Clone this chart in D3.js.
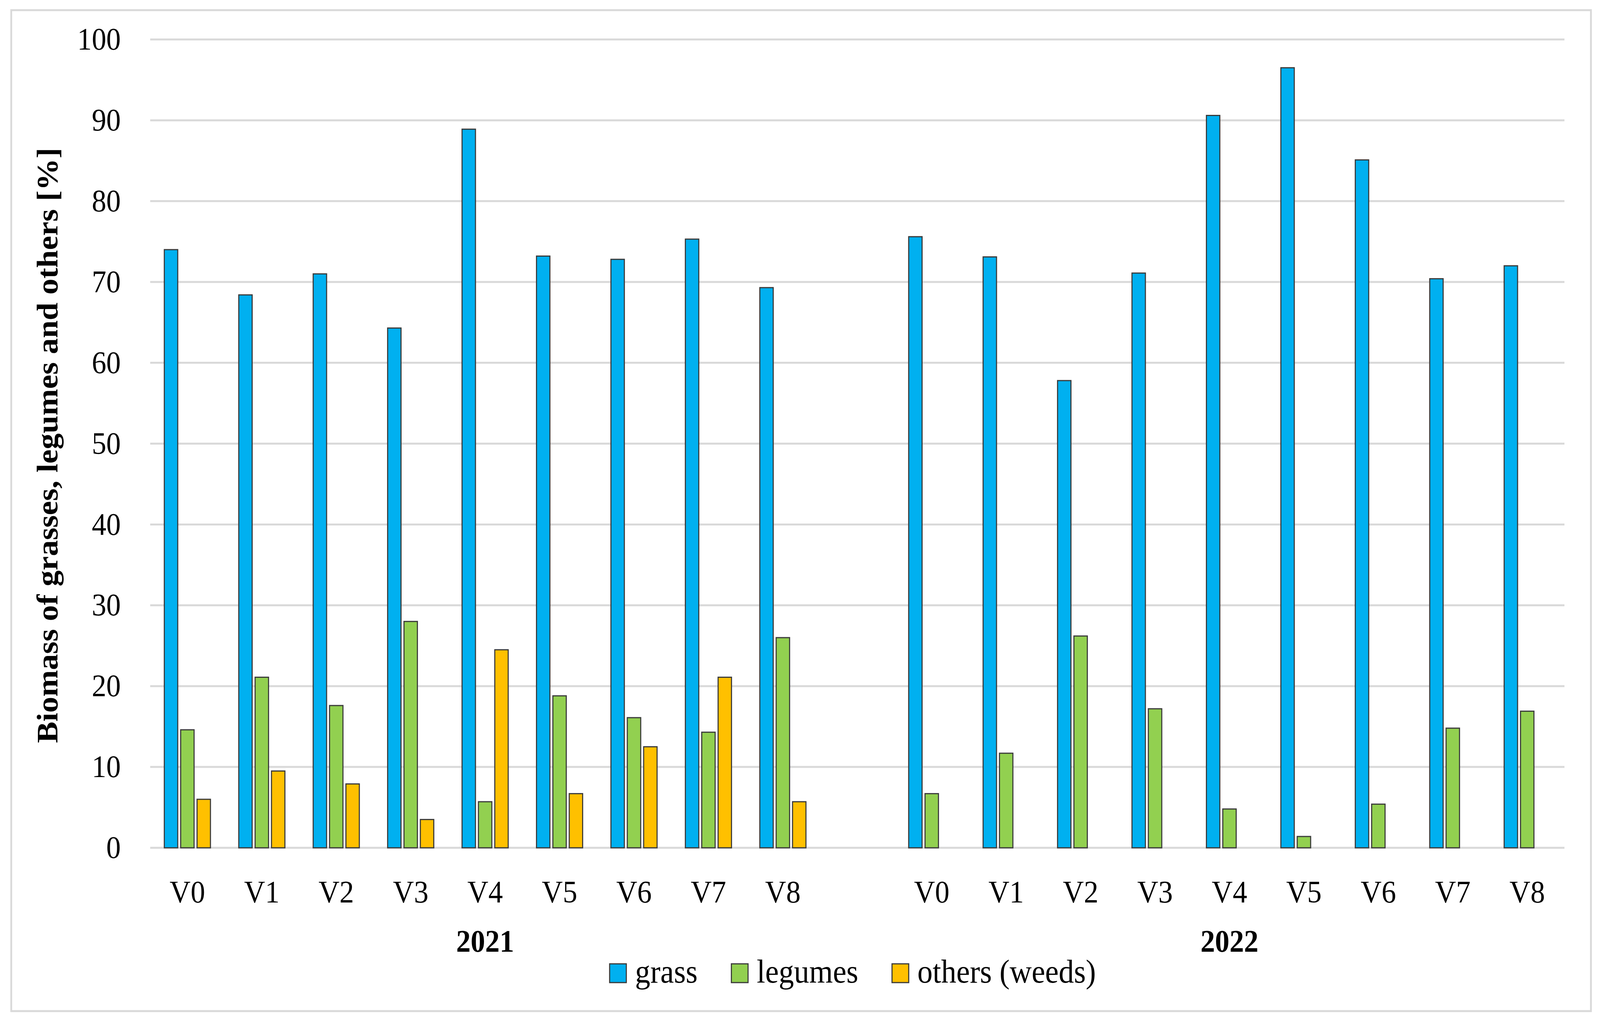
<!DOCTYPE html>
<html>
<head>
<meta charset="utf-8">
<script src="https://cdn.jsdelivr.net/npm/d3@7"></script>
<style>
  html, body { margin: 0; padding: 0; background: #fff; overflow: hidden; }
  svg { display: block; }
</style>
</head>
<body>
<div class="chart"></div>
<script>
// data
const years = ["2021", "2022"];
const variants = ["V0", "V1", "V2", "V3", "V4", "V5", "V6", "V7", "V8"];
const series = ["grass", "legumes", "others (weeds)"];
const colors = ["#00b0f0", "#92d050", "#ffc000"];

const grass2021 = [74.0, 68.4, 71.0, 64.3, 88.9, 73.2, 72.8, 75.3, 69.3];
const legumes2021 = [14.6, 21.1, 17.6, 28.0, 5.7, 18.8, 16.1, 14.3, 26.0];
const others2021 = [6.0, 9.5, 7.9, 3.5, 24.5, 6.7, 12.5, 21.1, 5.7];

const grass2022 = [75.6, 73.1, 57.8, 71.1, 90.6, 96.5, 85.1, 70.4, 72.0];
const legumes2022 = [6.7, 11.7, 26.2, 17.2, 4.8, 1.4, 5.4, 14.8, 16.9];
const others2022 = [0, 0, 0, 0, 0, 0, 0, 0, 0];

const yTicks = [0, 10, 20, 30, 40, 50, 60, 70, 80, 90, 100];

const W = 4411, H = 2621;
const font = "'Liberation Serif', 'Times New Roman', serif";

// build slots: 9 + empty gap + 9 (like Excel's blank category)
const slots = [];
const bars = [];
const valuesByYear = {
  "2021": [grass2021, legumes2021, others2021],
  "2022": [grass2022, legumes2022, others2022]
};
years.forEach((yr, yi) => {
  if (yi > 0) slots.push("gap" + yi);
  variants.forEach((v, vi) => {
    const key = yr + "|" + v;
    slots.push(key);
    series.forEach((s, si) => {
      bars.push({ slot: key, series: s, si: si, value: valuesByYear[yr][si][vi] });
    });
  });
});

const svg = d3.select(".chart").append("svg")
  .attr("viewBox", `0 0 ${W} ${H}`)
  .attr("preserveAspectRatio", "none")
  .style("width", "100vw")
  .style("height", "100vh");

svg.append("rect")
  .attr("x", 31).attr("y", 26)
  .attr("width", 4355).attr("height", 2562)
  .attr("fill", "#fff")
  .attr("stroke", "#d9d9d9")
  .attr("stroke-width", 5);

const plotLeft = 414, plotRight = 4313, plotTop = 101, plotBottom = 2170;

const x = d3.scaleBand().domain(slots).range([plotLeft, plotRight]).padding(0);
const y = d3.scaleLinear().domain([0, 100]).range([plotBottom, plotTop]);

const groupW = x.bandwidth() * 0.62;
const xs = d3.scaleBand().domain(series).range([0, groupW]).paddingInner(0.18);
const groupOff = (x.bandwidth() - groupW) / 2;

// gridlines
svg.append("g")
  .selectAll("line")
  .data(yTicks)
  .enter().append("line")
  .attr("x1", plotLeft).attr("x2", plotRight)
  .attr("y1", d => y(d)).attr("y2", d => y(d))
  .attr("stroke", "#d9d9d9")
  .attr("stroke-width", 5);

// y axis labels
const yAxis = d3.axisLeft(y).tickValues(yTicks).tickSize(0).tickPadding(0);
const gy = svg.append("g")
  .attr("transform", "translate(333,0)")
  .call(yAxis);
gy.select(".domain").remove();
gy.selectAll("text")
  .attr("font-family", font)
  .attr("font-size", 80)
  .attr("fill", "#000")
  .attr("dy", "0.32em");

// bars
svg.append("g")
  .selectAll("rect")
  .data(bars.filter(d => d.value > 0))
  .enter().append("rect")
  .attr("x", d => x(d.slot) + groupOff + xs(d.series))
  .attr("y", d => y(d.value))
  .attr("width", xs.bandwidth())
  .attr("height", d => y(0) - y(d.value))
  .attr("fill", d => colors[d.si])
  .attr("stroke", "#3a3a3a")
  .attr("stroke-width", 3);

// category labels
const xAxis = d3.axisBottom(x)
  .tickValues(slots.filter(s => s.indexOf("|") > 0))
  .tickFormat(d => d.split("|")[1])
  .tickSize(0).tickPadding(0);
const gx = svg.append("g")
  .attr("transform", "translate(0,2310)")
  .call(xAxis);
gx.select(".domain").remove();
gx.selectAll("text")
  .attr("font-family", font)
  .attr("font-size", 80)
  .attr("fill", "#000")
  .attr("dy", 0);

// year labels
svg.append("g")
  .selectAll("text")
  .data(years)
  .enter().append("text")
  .attr("x", d => {
    const first = x(d + "|" + variants[0]);
    const last = x(d + "|" + variants[variants.length - 1]) + x.bandwidth();
    return (first + last) / 2;
  })
  .attr("y", 2436)
  .attr("text-anchor", "middle")
  .attr("font-family", font)
  .attr("font-weight", "bold")
  .attr("font-size", 80)
  .text(d => d);

// y axis title
svg.append("text")
  .attr("transform", "translate(158,1140) rotate(-90)")
  .attr("text-anchor", "middle")
  .attr("font-family", font)
  .attr("font-weight", "bold")
  .attr("font-size", 82)
  .text("Biomass of grasses, legumes and others [%]");

// legend
const legend = svg.append("g");
let lx = 0;
series.forEach((s, i) => {
  const item = legend.append("g").attr("transform", `translate(${lx},0)`);
  item.append("rect")
    .attr("x", 0).attr("y", 2467)
    .attr("width", 46).attr("height", 48)
    .attr("fill", colors[i])
    .attr("stroke", "#3a3a3a")
    .attr("stroke-width", 3);
  const t = item.append("text")
    .attr("x", 70).attr("y", 2515)
    .attr("font-family", font)
    .attr("font-size", 84)
    .text(s);
  lx += 70 + t.node().getComputedTextLength() + 93;
});
const legendW = lx - 93;
legend.attr("transform", `translate(${2351 - legendW / 2},0)`);
</script>
</body>
</html>
